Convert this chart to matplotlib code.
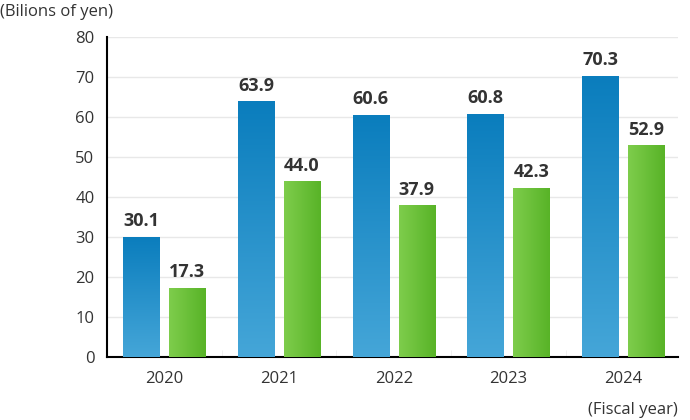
import matplotlib.pyplot as plt
import numpy as np
from matplotlib.colors import LinearSegmentedColormap

plt.rcParams['font.family'] = ['Open Sans', 'DejaVu Sans']

years = ["2020", "2021", "2022", "2023", "2024"]
blue_vals = [30.1, 63.9, 60.6, 60.8, 70.3]
green_vals = [17.3, 44.0, 37.9, 42.3, 52.9]

blue_cmap = LinearSegmentedColormap.from_list("b", ["#45a6d8", "#0a7dbd"])
green_cmap = LinearSegmentedColormap.from_list("g", ["#7ecd4c", "#58b327"])

fig = plt.figure(figsize=(6.9, 4.2), dpi=100)
ax = fig.add_axes([0.155, 0.15, 0.828, 0.762])

x = np.arange(len(years))
w = 0.315
off = 0.2

bars_b = ax.bar(x - off, blue_vals, w, color="none", zorder=3)
bars_g = ax.bar(x + off, green_vals, w, color="none", zorder=3)

vgrad = np.linspace(0, 1, 256).reshape(-1, 1)
hgrad = np.linspace(0, 1, 256).reshape(1, -1)
for b in bars_b:
    x0, y0 = b.get_x(), b.get_y()
    im = ax.imshow(vgrad, cmap=blue_cmap, origin="lower", aspect="auto",
                   extent=[x0, x0 + b.get_width(), y0, y0 + b.get_height()], zorder=3)
    im.set_clip_path(b)
for b in bars_g:
    x0, y0 = b.get_x(), b.get_y()
    im = ax.imshow(hgrad, cmap=green_cmap, origin="lower", aspect="auto",
                   extent=[x0, x0 + b.get_width(), y0, y0 + b.get_height()], zorder=3)
    im.set_clip_path(b)

for bars, vals in ((bars_b, blue_vals), (bars_g, green_vals)):
    for b, v in zip(bars, vals):
        ax.text(b.get_x() + b.get_width() / 2, v + 1.6, f"{v:.1f}", ha="center", va="bottom",
                fontsize=13, fontweight="bold", color="#333333", zorder=4)

ax.set_xlim(-0.5, 4.48)
ax.set_ylim(0, 80)
ax.set_yticks(range(0, 81, 10))
ax.set_xticks(x)
ax.set_xticklabels(years)
ax.set_xticks(np.arange(0.5, 4, 1), minor=True)
ax.tick_params(axis="x", which="major", length=0, pad=10, labelsize=12, labelcolor="#333333")
ax.tick_params(axis="x", which="minor", direction="in", length=5, color="#eeeeee")
ax.tick_params(axis="y", length=0, pad=9, labelsize=12, labelcolor="#333333")
ax.grid(axis="y", color="#e8e8e8", linewidth=1, zorder=0)
ax.set_axisbelow(True)
for s in ("top", "right"):
    ax.spines[s].set_visible(False)
ax.spines["left"].set_color("black")
ax.spines["bottom"].set_color("black")
ax.spines["left"].set_linewidth(1.5)
ax.spines["bottom"].set_linewidth(1.5)

fig.text(0.0, 0.972, "(Bilions of yen)", ha="left", va="center", fontsize=12, color="#333333")
fig.text(0.982, 0.024, "(Fiscal year)", ha="right", va="center", fontsize=12, color="#333333")

fig.savefig("out.png", dpi=100)
